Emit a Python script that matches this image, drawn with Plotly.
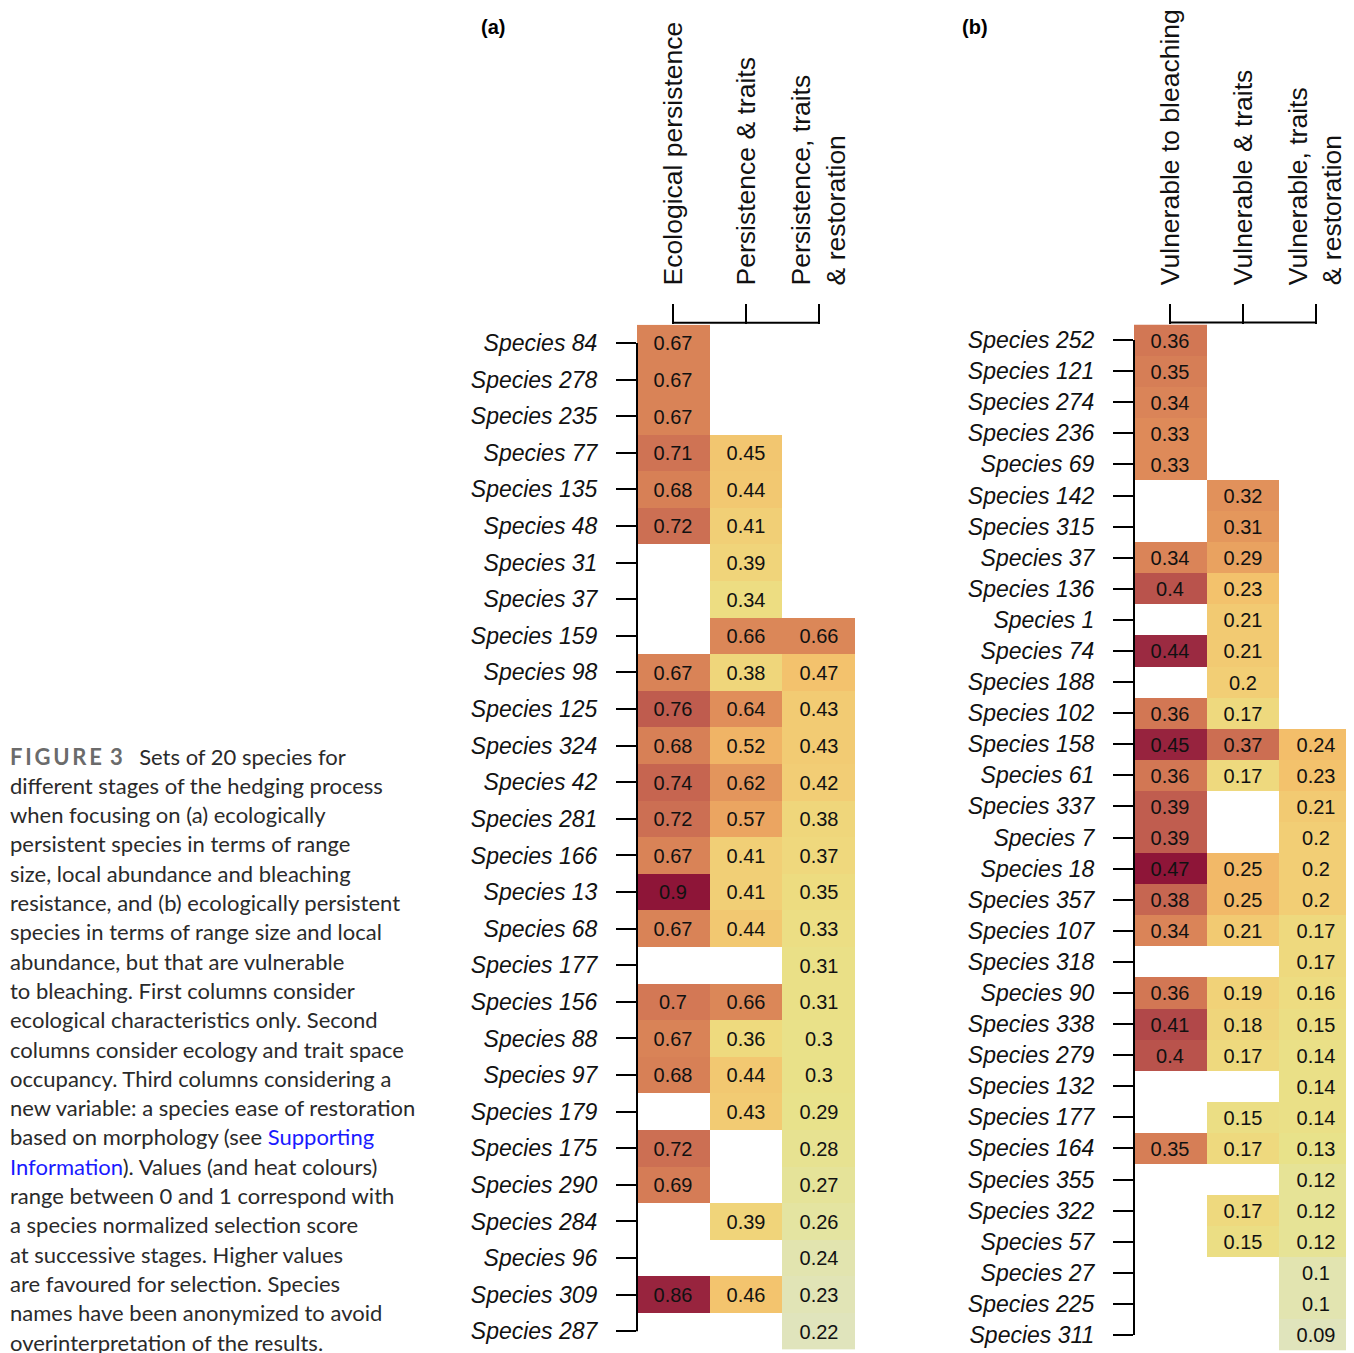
import plotly.graph_objects as go

# page body has an 8px margin; figure is sized/positioned so that pixels match the target
OFF = 8
W, H = 1354 - OFF, 1353 - OFF

# ---------------- data ----------------
species_a = ["Species 84", "Species 278", "Species 235", "Species 77", "Species 135", "Species 48",
             "Species 31", "Species 37", "Species 159", "Species 98", "Species 125", "Species 324",
             "Species 42", "Species 281", "Species 166", "Species 13", "Species 68", "Species 177",
             "Species 156", "Species 88", "Species 97", "Species 179", "Species 175", "Species 290",
             "Species 284", "Species 96", "Species 309", "Species 287"]
cols_a = ["Ecological persistence", "Persistence & traits", "Persistence, traits<br>& restoration"]
ecological_persistence = [0.67, 0.67, 0.67, 0.71, 0.68, 0.72, None, None, None, 0.67, 0.76, 0.68,
                          0.74, 0.72, 0.67, 0.9, 0.67, None, 0.7, 0.67, 0.68, None, 0.72, 0.69,
                          None, None, 0.86, None]
persistence_traits = [None, None, None, 0.45, 0.44, 0.41, 0.39, 0.34, 0.66, 0.38, 0.64, 0.52,
                      0.62, 0.57, 0.41, 0.41, 0.44, None, 0.66, 0.36, 0.44, 0.43, None, None,
                      0.39, None, 0.46, None]
persistence_traits_restoration = [None, None, None, None, None, None, None, None, 0.66, 0.47, 0.43, 0.43,
                                  0.42, 0.38, 0.37, 0.35, 0.33, 0.31, 0.31, 0.3, 0.3, 0.29, 0.28, 0.27,
                                  0.26, 0.24, 0.23, 0.22]

species_b = ["Species 252", "Species 121", "Species 274", "Species 236", "Species 69", "Species 142",
             "Species 315", "Species 37", "Species 136", "Species 1", "Species 74", "Species 188",
             "Species 102", "Species 158", "Species 61", "Species 337", "Species 7", "Species 18",
             "Species 357", "Species 107", "Species 318", "Species 90", "Species 338", "Species 279",
             "Species 132", "Species 177", "Species 164", "Species 355", "Species 322", "Species 57",
             "Species 27", "Species 225", "Species 311"]
cols_b = ["Vulnerable to bleaching", "Vulnerable & traits", "Vulnerable, traits<br>& restoration"]
vulnerable_bleaching = [0.36, 0.35, 0.34, 0.33, 0.33, None, None, 0.34, 0.4, None, 0.44, None,
                        0.36, 0.45, 0.36, 0.39, 0.39, 0.47, 0.38, 0.34, None, 0.36, 0.41, 0.4,
                        None, None, 0.35, None, None, None, None, None, None]
vulnerable_traits = [None, None, None, None, None, 0.32, 0.31, 0.29, 0.23, 0.21, 0.21, 0.2,
                     0.17, 0.37, 0.17, None, None, 0.25, 0.25, 0.21, None, 0.19, 0.18, 0.17,
                     None, 0.15, 0.17, None, 0.17, 0.15, None, None, None]
vulnerable_traits_restoration = [None, None, None, None, None, None, None, None, None, None, None, None,
                                 None, 0.24, 0.23, 0.21, 0.2, 0.2, 0.2, 0.17, 0.17, 0.16, 0.15, 0.14,
                                 0.14, 0.14, 0.13, 0.12, 0.12, 0.12, 0.1, 0.1, 0.09]

caption_lines = [
    "<b><span style='color:#6b6b6b'>F\u2009I\u2009G\u2009U\u2009R\u2009E\u2009 3</span></b>\u2003Sets of 20 species for",
    "different stages of the hedging process",
    "when focusing on (a) ecologically",
    "persistent species in terms of range",
    "size, local abundance and bleaching",
    "resistance, and (b) ecologically persistent",
    "species in terms of range size and local",
    "abundance, but that are vulnerable",
    "to bleaching. First columns consider",
    "ecological characteristics only. Second",
    "columns consider ecology and trait space",
    "occupancy. Third columns considering a",
    "new variable: a species ease of restoration",
    "based on morphology (see <span style='color:#1a1aff'>Supporting</span>",
    "<span style='color:#1a1aff'>Information</span>). Values (and heat colours)",
    "range between 0 and 1 correspond with",
    "a species normalized selection score",
    "at successive stages. Higher values",
    "are favoured for selection. Species",
    "names have been anonymized to avoid",
    "overinterpretation of the results.",
]

heat = [
    [0.00, "#e0e4bc"], [0.05, "#e3e4a6"], [0.10, "#e8e28b"], [0.20, "#eedb7f"],
    [0.30, "#f2cc74"], [0.40, "#f3bd69"], [0.50, "#eca862"], [0.60, "#e2925b"],
    [0.70, "#d47a55"], [0.80, "#be5a4e"], [0.90, "#9f2f43"], [1.00, "#8e1538"],
]

FONT = "Liberation Sans, Arial, sans-serif"


def px_x(v):
    return (v - OFF) / W


def px_y(v):
    return 1 - (v - OFF) / H


def fmt(v):
    return "" if v is None else f"{v:g}"


def build(cols_vals):
    n = len(cols_vals[0])
    z = [[cols_vals[c][r] for c in range(len(cols_vals))] for r in range(n)]
    t = [[fmt(cols_vals[c][r]) for c in range(len(cols_vals))] for r in range(n)]
    flat = [v for col in cols_vals for v in col if v is not None]
    return z, t, min(flat), max(flat)


fig = go.Figure()

panels = [
    dict(species=species_a, cols=cols_a,
         vals=[ecological_persistence, persistence_traits, persistence_traits_restoration],
         xd=[px_x(637), px_x(855)], yd=[px_y(1349.6), px_y(324.7)], xa="x", ya="y", label="(a)", lx=479),
    dict(species=species_b, cols=cols_b,
         vals=[vulnerable_bleaching, vulnerable_traits, vulnerable_traits_restoration],
         xd=[px_x(1134), px_x(1352)], yd=[px_y(1350.5), px_y(324.5)], xa="x2", ya="y2", label="(b)", lx=960),
]

shapes = []
annotations = []
for i, p in enumerate(panels):
    z, t, zmin, zmax = build(p["vals"])
    n = len(p["species"])
    fig.add_trace(go.Heatmap(
        z=z, x=list(range(len(p["cols"]))), y=list(range(n)),
        text=t, texttemplate="%{text}",
        textfont=dict(family=FONT, size=20, color="#111111"),
        colorscale=heat, zmin=zmin, zmax=zmax, showscale=False,
        xaxis=p["xa"], yaxis=p["ya"], hoverongaps=False,
    ))
    sfx = "" if i == 0 else "2"
    fig.layout["xaxis" + sfx] = dict(
        domain=p["xd"], anchor=p["ya"], side="top", range=[-0.5, len(p["cols"]) - 0.5],
        tickmode="array", tickvals=list(range(len(p["cols"]))), ticktext=p["cols"],
        tickangle=-90, ticks="outside", ticklen=20, tickwidth=2, tickcolor="black",
        ticklabelstandoff=13, automargin=False,
        tickfont=dict(family=FONT, size=26.5, color="#111111"),
        showgrid=False, zeroline=False, showline=False, fixedrange=True,
    )
    fig.layout["yaxis" + sfx] = dict(
        domain=p["yd"], anchor=p["xa"], range=[n - 0.5, -0.5],
        tickmode="array", tickvals=list(range(n)), ticktext=p["species"],
        ticks="outside", ticklen=20, tickwidth=2, tickcolor="black",
        ticklabelstandoff=14, automargin=False,
        tickfont=dict(family=FONT, size=23, color="#111111", style="italic"),
        showgrid=False, zeroline=False, showline=False, fixedrange=True,
    )
    # R-style axis lines spanning first to last tick
    shapes.append(dict(type="line", xref=p["xa"] + " domain", yref=p["ya"],
                       x0=0, x1=0, y0=0, y1=n - 1, line=dict(color="black", width=2)))
    shapes.append(dict(type="line", xref=p["xa"], yref=p["ya"] + " domain",
                       x0=0, x1=len(p["cols"]) - 1, y0=1.002, y1=1.002,
                       line=dict(color="black", width=2)))
    annotations.append(dict(text="<b>" + p["label"] + "</b>", xref="paper", yref="paper",
                            x=px_x(p["lx"]), y=px_y(27), xanchor="left", yanchor="middle",
                            showarrow=False, font=dict(family=FONT, size=20, color="black")))

for k, line in enumerate(caption_lines):
    ypx = 756 + k * 29.3
    annotations.append(dict(text=line, xref="paper", yref="paper", x=px_x(8), y=px_y(ypx),
                            xanchor="left", yanchor="middle", showarrow=False, align="left",
                            font=dict(family="Lato, Open Sans, sans-serif", size=22, color="#2a2a2a")))

fig.update_layout(
    width=W, height=H, margin=dict(l=0, r=0, t=0, b=0, autoexpand=False),
    paper_bgcolor="white", plot_bgcolor="white",
    shapes=shapes, annotations=annotations, showlegend=False,
)

fig.write_html("out.html")
